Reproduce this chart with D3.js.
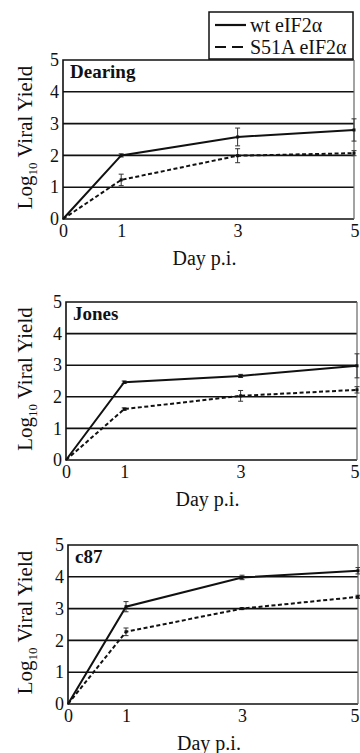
<!DOCTYPE html>
<html>
<head>
<meta charset="utf-8">
<script src="https://cdnjs.cloudflare.com/ajax/libs/d3/7.8.5/d3.min.js"></script>
<style>
  body { margin: 0; background: #fff; }
  svg { display: block; }
  svg text, svg tspan { font-family: "Liberation Serif", "DejaVu Serif", serif; }
</style>
</head>
<body>
<div id="chart"></div>
<script>
// data (log10 viral yield per day p.i.)
var days = [0, 1, 3, 5];
var panelNames = ["Dearing", "Jones", "c87"];
var wtYield = [[0, 2.0, 2.58, 2.8], [0, 2.46, 2.66, 2.98], [0, 3.06, 3.98, 4.19]];
var wtErr = [[0, 0.05, 0.28, 0.35], [0, 0.04, 0.05, 0.38], [0, 0.16, 0.07, 0.1]];
var s51aYield = [[0, 1.23, 1.99, 2.07], [0, 1.61, 2.03, 2.22], [0, 2.27, 3.0, 3.37]];
var s51aErr = [[0, 0.18, 0.22, 0.08], [0, 0.04, 0.17, 0.1], [0, 0.12, 0.03, 0.05]];
var yTicks = [0, 1, 2, 3, 4, 5];
var xTicks = [0, 1, 3, 5];
var seriesNames = ["wt eIF2\u03b1", "S51A eIF2\u03b1"];

var serif = "'Liberation Serif', 'DejaVu Serif', serif";

// panel boxes on the page
var boxes = [
  {left: 63, top: 60, width: 291, height: 159},
  {left: 66, top: 302, width: 291, height: 158},
  {left: 68, top: 545, width: 290, height: 159}
];

var svg = d3.select("#chart").append("svg")
    .attr("width", 360)
    .attr("height", 753);

function drawPanel(i) {
  var b = boxes[i];
  var x = d3.scaleLinear().domain([0, 5]).range([0, b.width]);
  var y = d3.scaleLinear().domain([0, 5]).range([b.height, 0]);

  var g = svg.append("g")
      .attr("transform", "translate(" + b.left + "," + b.top + ")");

  // horizontal grid lines
  g.selectAll("line.grid")
      .data(yTicks.slice(1, -1))
      .enter().append("line")
      .attr("class", "grid")
      .attr("x1", 0).attr("x2", b.width)
      .attr("y1", function(d) { return y(d); })
      .attr("y2", function(d) { return y(d); })
      .attr("stroke", "#111")
      .attr("stroke-width", 1.6);

  // axes, labels only
  var ya = g.append("g").call(d3.axisLeft(y).tickValues(yTicks)
      .tickFormat(d3.format("d")).tickSize(0).tickPadding(4));
  var xa = g.append("g").attr("transform", "translate(0," + b.height + ")")
      .call(d3.axisBottom(x).tickValues(xTicks)
      .tickFormat(d3.format("d")).tickSize(0).tickPadding(5));
  [ya, xa].forEach(function(a) {
    a.select(".domain").remove();
    a.selectAll("text")
        .attr("fill", "#111")
        .style("font-family", serif)
        .style("font-size", "18px");
  });
  // last day label sits on the page edge, keep it inside
  var edge = 359 - (b.left + b.width);
  xa.selectAll(".tick text").filter(function(d) { return d === 5; })
      .attr("text-anchor", "end").attr("x", Math.min(5, edge));

  // frame
  g.append("path")
      .attr("d", "M" + b.width + ",0H0V" + b.height + "H" + b.width)
      .attr("fill", "none")
      .attr("stroke", "#111")
      .attr("stroke-width", 1.6);
  g.append("line")
      .attr("x1", b.width).attr("x2", b.width)
      .attr("y1", 0).attr("y2", b.height)
      .attr("stroke", "#666")
      .attr("stroke-width", 1.2);

  var line = d3.line()
      .x(function(d) { return x(d.day); })
      .y(function(d) { return y(d.v); });

  var series = [
    {vals: wtYield[i], errs: wtErr[i], dash: null},
    {vals: s51aYield[i], errs: s51aErr[i], dash: "4,2.5"}
  ];

  series.forEach(function(s) {
    var pts = days.map(function(d, k) { return {day: d, v: s.vals[k], e: s.errs[k]}; });

    // error bars
    var eb = g.append("g").attr("stroke", "#333").attr("stroke-width", 1);
    pts.filter(function(p) { return p.e > 0; }).forEach(function(p) {
      var cx = x(p.day);
      eb.append("line").attr("x1", cx).attr("x2", cx)
          .attr("y1", y(p.v + p.e)).attr("y2", y(p.v - p.e));
      eb.append("line").attr("x1", cx - 2.5).attr("x2", cx + 2.5)
          .attr("y1", y(p.v + p.e)).attr("y2", y(p.v + p.e));
      eb.append("line").attr("x1", cx - 2.5).attr("x2", cx + 2.5)
          .attr("y1", y(p.v - p.e)).attr("y2", y(p.v - p.e));
    });

    g.append("path")
        .datum(pts)
        .attr("d", line)
        .attr("fill", "none")
        .attr("stroke", "#111")
        .attr("stroke-width", 2)
        .attr("stroke-dasharray", s.dash);

    g.selectAll(null)
        .data(pts.slice(1))
        .enter().append("rect")
        .attr("x", function(p) { return x(p.day) - 1.5; })
        .attr("y", function(p) { return y(p.v) - 1.5; })
        .attr("width", 3).attr("height", 3)
        .attr("fill", "#111");
  });

  // panel name
  g.append("text")
      .attr("x", 7).attr("y", 18)
      .style("font-family", serif)
      .attr("font-size", 19)
      .attr("font-weight", "bold")
      .attr("fill", "#111")
      .text(panelNames[i]);

  // x title
  g.append("text")
      .attr("x", b.width / 2 - 4).attr("y", b.height + 46)
      .attr("text-anchor", "middle")
      .style("font-family", serif)
      .attr("font-size", 20)
      .attr("fill", "#111")
      .text("Day p.i.");

  // y title with subscript
  var yt = g.append("text")
      .attr("transform", "translate(" + (25 - b.left) + "," + (b.height / 2 - 2) + ") rotate(-90)")
      .attr("text-anchor", "middle")
      .attr("dy", "0.35em")
      .style("font-family", serif)
      .attr("font-size", 21)
      .attr("fill", "#111");
  yt.append("tspan").text("Log");
  yt.append("tspan").attr("font-size", 13).attr("dy", 5).text("10");
  yt.append("tspan").attr("dy", -5).text(" Viral Yield");
}

panelNames.forEach(function(name, i) { drawPanel(i); });

// legend
var lg = svg.append("g").attr("transform", "translate(209,12)");
lg.append("rect")
    .attr("width", 144).attr("height", 47)
    .attr("fill", "#fff")
    .attr("stroke", "#111")
    .attr("stroke-width", 1.5);
seriesNames.forEach(function(name, k) {
  var cy = 13 + k * 22;
  lg.append("line")
      .attr("x1", 6).attr("x2", 37)
      .attr("y1", cy).attr("y2", cy)
      .attr("stroke", "#111")
      .attr("stroke-width", 2.2)
      .attr("stroke-dasharray", k === 1 ? "11,6" : null);
  lg.append("text")
      .attr("x", 41).attr("y", cy)
      .attr("dy", "0.35em")
      .style("font-family", serif)
      .attr("font-size", 20)
      .attr("fill", "#111")
      .text(name);
});
</script>
</body>
</html>
